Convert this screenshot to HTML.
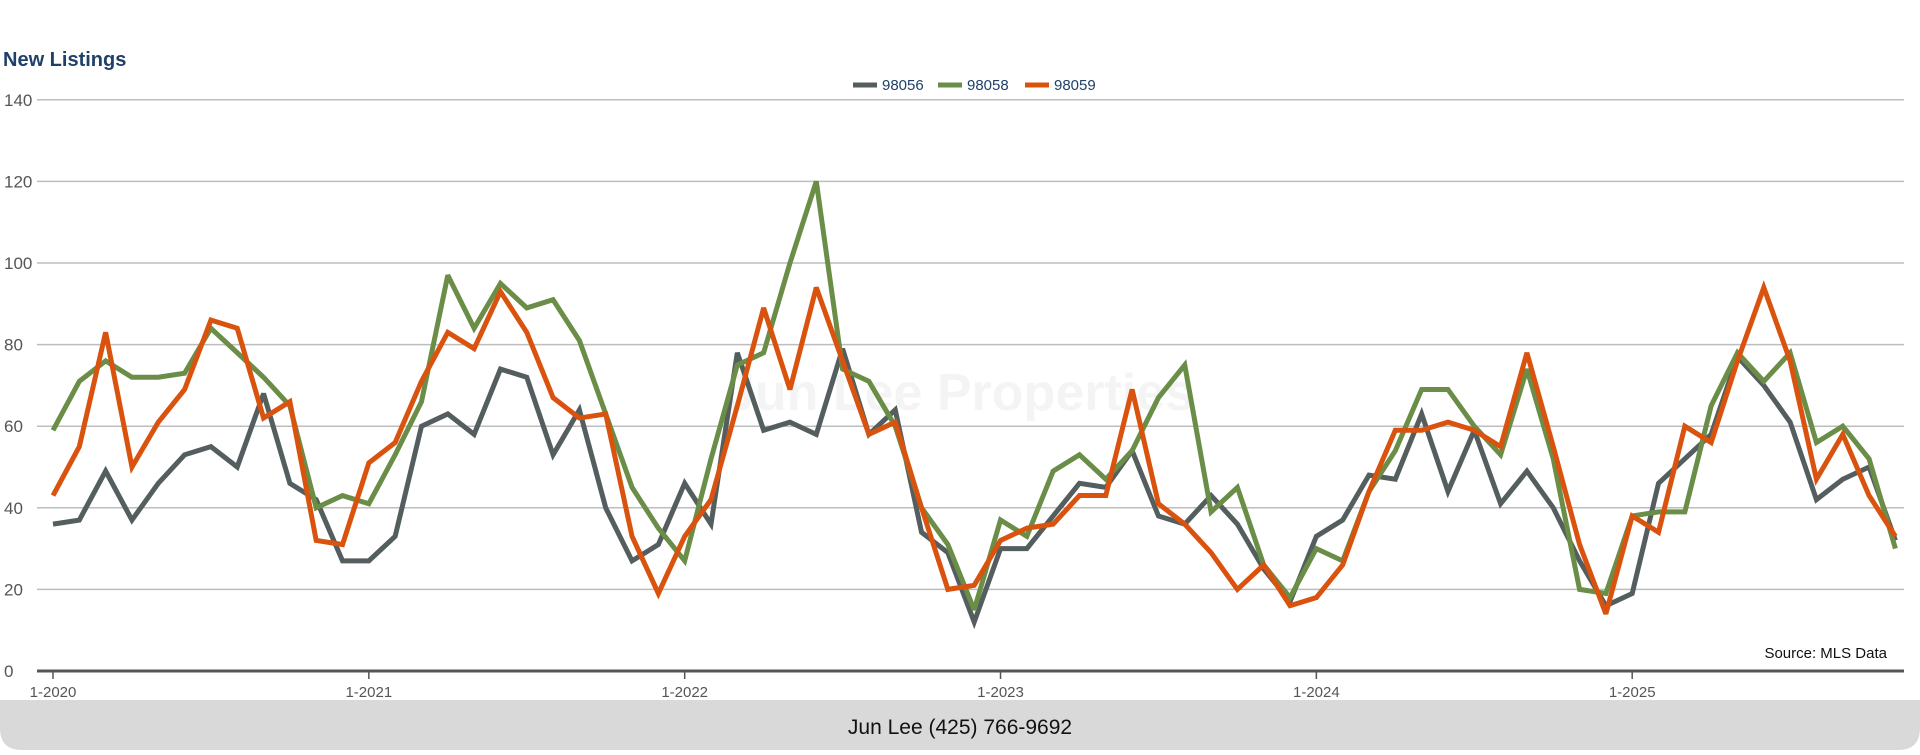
<!DOCTYPE html>
<html><head><meta charset="utf-8"><style>
body{margin:0;width:1920px;height:750px;background:#fff;overflow:hidden;font-family:"Liberation Sans",sans-serif}
</style></head><body>
<svg id="chart" width="1920" height="750" xmlns="http://www.w3.org/2000/svg">
<text x="3" y="66" font-size="20" font-weight="bold" fill="#1f4068">New Listings</text>
<text x="960" y="410" font-size="52" font-weight="bold" fill="#f4f4f4" text-anchor="middle">Jun Lee Properties</text>
<g id="grid"></g><g id="series"></g><g id="xaxis"></g>
<g>
<line x1="853" y1="85" x2="877" y2="85" stroke="#545e5f" stroke-width="5"/>
<text x="882" y="90" font-size="15" fill="#1f4068">98056</text>
<line x1="938" y1="85" x2="962" y2="85" stroke="#6a8d47" stroke-width="5"/>
<text x="967" y="90" font-size="15" fill="#1f4068">98058</text>
<line x1="1025" y1="85" x2="1049" y2="85" stroke="#d9530f" stroke-width="5"/>
<text x="1054" y="90" font-size="15" fill="#1f4068">98059</text>
</g>
<text x="1887" y="658" font-size="15" fill="#111" text-anchor="end">Source: MLS Data</text>
<path d="M0 700 H1920 V728 Q1920 750 1898 750 H22 Q0 750 0 728 Z" fill="#d9d9d9"/>
<text x="960" y="734" font-size="21" fill="#111" text-anchor="middle">Jun Lee (425) 766-9692</text>
<g id="xlabels"></g>
</svg>
<script>
const yTicks=[0,20,40,60,80,100,120,140];
const xTickLabels=["1-2020","1-2021","1-2022","1-2023","1-2024","1-2025"];
const s98056=[36,37,49,37,46,53,55,50,68,46,42,27,27,33,60,63,58,74,72,53,64,40,27,31,46,36,78,59,61,58,79,58,64,34,29,12,30,30,38,46,45,54,38,36,43,36,25,17,33,37,48,47,63,44,59,41,49,40,27,16,19,46,52,58,77,70,61,42,47,50,32];
const s98058=[59,71,76,72,72,73,84,78,72,65,40,43,41,53,66,97,84,95,89,91,81,63,45,35,27,52,75,78,100,120,74,71,60,40,31,15,37,33,49,53,47,54,67,75,39,45,26,18,30,27,44,54,69,69,60,53,74,52,20,19,38,39,39,65,78,71,78,56,60,52,30];
const s98059=[43,55,83,50,61,69,86,84,62,66,32,31,51,56,71,83,79,93,83,67,62,63,33,19,33,42,65,89,69,94,76,58,61,40,20,21,32,35,36,43,43,69,41,36,29,20,26,16,18,26,44,59,59,61,59,55,78,55,31,14,38,34,60,56,76,94,76,47,58,43,33];
const NS="http://www.w3.org/2000/svg";
const X=i=>53+i*26.32, Y=v=>671-v*4.08;
function mk(t,a,p){const e=document.createElementNS(NS,t);for(const k in a)e.setAttribute(k,a[k]);document.getElementById(p).appendChild(e);return e;}
yTicks.forEach(v=>{
 if(v>0){const l=mk('line',{x1:37,x2:1904,y1:Y(v),y2:Y(v),stroke:'#bdbdbd','stroke-width':1.5},'grid');
 
 }
 const t=mk('text',{x:4,y:Y(v)+6,'font-size':17,fill:'#555'},'grid');t.textContent=v;
 
 
});
const ax=mk('line',{x1:37,x2:1904,y1:Y(0),y2:Y(0),stroke:'#555','stroke-width':3},'xaxis');


xTickLabels.forEach((lab,k)=>{
 const x=X(k*12);
 const tk=mk('line',{x1:x,x2:x,y1:Y(0),y2:Y(0)+8,stroke:'#555','stroke-width':1.5},'xaxis');
 
 
 const t=mk('text',{x:x,y:697,'font-size':15,fill:'#555','text-anchor':'middle'},'xlabels');t.textContent=lab;
 
 
});
[[s98056,'#545e5f','98056'],[s98058,'#6a8d47','98058'],[s98059,'#d9530f','98059']].forEach(([d,c,n])=>{
 const p=mk('polyline',{points:d.map((v,i)=>X(i)+','+Y(v)).join(' '),fill:'none',stroke:c,'stroke-width':5,'stroke-linejoin':'miter','stroke-miterlimit':3},'series');
 
 
});
</script>
</body></html>
